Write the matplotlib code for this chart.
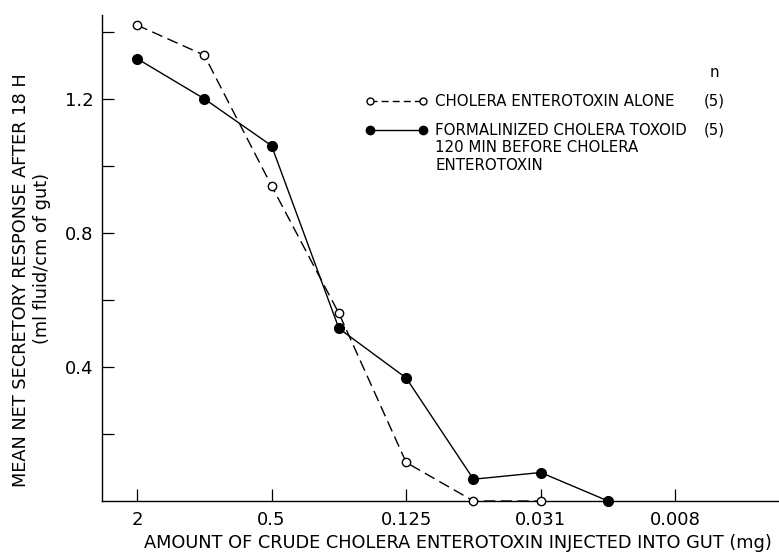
import matplotlib
matplotlib.use("Agg")
import matplotlib.pyplot as plt

plt.rcParams['font.family'] = ['DejaVu Sans']

# doses (mg) injected into gut, halving steps
dose = [2, 1, 0.5, 0.25, 0.125, 0.0625, 0.03125, 0.015625]
# mean net secretory response (ml fluid/cm of gut)
toxin_alone = [1.42, 1.33, 0.94, 0.56, 0.115, 0.0, 0.0]
toxoid_first = [1.32, 1.20, 1.06, 0.515, 0.367, 0.065, 0.085, 0.0]

xtick_pos = [2, 0.5, 0.125, 0.03125, 0.0078125]
xtick_labels = ['2', '0.5', '0.125', '0.031', '0.008']
ytick_major = [0.4, 0.8, 1.2]
ytick_minor = [0.2, 0.6, 1.0, 1.4]

fig = plt.figure(figsize=(7.79, 5.52), dpi=100)
ax = fig.add_axes([102 / 779, 1 - 501 / 552, 677 / 779, 486 / 552])

ax.plot(dose[:len(toxin_alone)], toxin_alone, color='black', lw=1.0,
        linestyle=(0, (8, 4)), marker='o', ms=6, mfc='white', mec='black', mew=1.0,
        clip_on=False, zorder=3)
ax.plot(dose[:len(toxoid_first)], toxoid_first, color='black', lw=1.0,
        marker='o', ms=7, mfc='black', mec='black', clip_on=False, zorder=3)

ax.set_xscale('log', base=2)
ax.set_xlim(2 * 2 ** 0.52, 2 / 2 ** 9.54)
ax.set_ylim(0, 1.45)
ax.set_xticks(xtick_pos)
ax.set_xticklabels(xtick_labels)
ax.minorticks_off()
ax.set_yticks(ytick_major)
ax.set_yticklabels([f'{v:.1f}' for v in ytick_major])
ax.set_yticks(ytick_minor, minor=True)

ax.tick_params(axis='both', which='both', direction='in', length=8.5, width=0.9,
               labelsize=13, color='black')
ax.tick_params(axis='y', pad=6)
ax.tick_params(axis='x', pad=7)

for side in ['top', 'right']:
    ax.spines[side].set_visible(False)
for side in ['left', 'bottom']:
    ax.spines[side].set_linewidth(1.0)

# axis titles
fig.text(458 / 779, 1 - 543 / 552, 'AMOUNT OF CRUDE CHOLERA ENTEROTOXIN INJECTED INTO GUT (mg)',
         ha='center', va='center', fontsize=12.8)
fig.text(21 / 779, 1 - 280 / 552, 'MEAN NET SECRETORY RESPONSE AFTER 18 H',
         ha='center', va='center', rotation=90, fontsize=12.8)
fig.text(42 / 779, 1 - 258 / 552, '(ml fluid/cm of gut)',
         ha='center', va='center', rotation=90, fontsize=12.8)

# hand-drawn key
ax.plot([0.396, 0.474], [0.823, 0.823], transform=ax.transAxes, color='black', lw=1.0,
        linestyle=(0, (5, 3)), marker='o', ms=5, mfc='white', mec='black', clip_on=False)
ax.plot([0.396, 0.474], [0.763, 0.763], transform=ax.transAxes, color='black', lw=1.0,
        marker='o', ms=6, mfc='black', mec='black', clip_on=False)
ax.text(0.492, 0.823, 'CHOLERA ENTEROTOXIN ALONE', transform=ax.transAxes,
        ha='left', va='center', fontsize=10.8)
ax.text(0.492, 0.763 + 0.015, 'FORMALINIZED CHOLERA TOXOID\n120 MIN BEFORE CHOLERA\nENTEROTOXIN',
        transform=ax.transAxes, ha='left', va='top', fontsize=10.8, linespacing=1.2)
ax.text(0.905, 0.881, 'n', transform=ax.transAxes, ha='center', va='center', fontsize=10.8)
ax.text(0.905, 0.823, '(5)', transform=ax.transAxes, ha='center', va='center', fontsize=10.8)
ax.text(0.905, 0.763, '(5)', transform=ax.transAxes, ha='center', va='center', fontsize=10.8)

fig.savefig('out.png', dpi=100)
